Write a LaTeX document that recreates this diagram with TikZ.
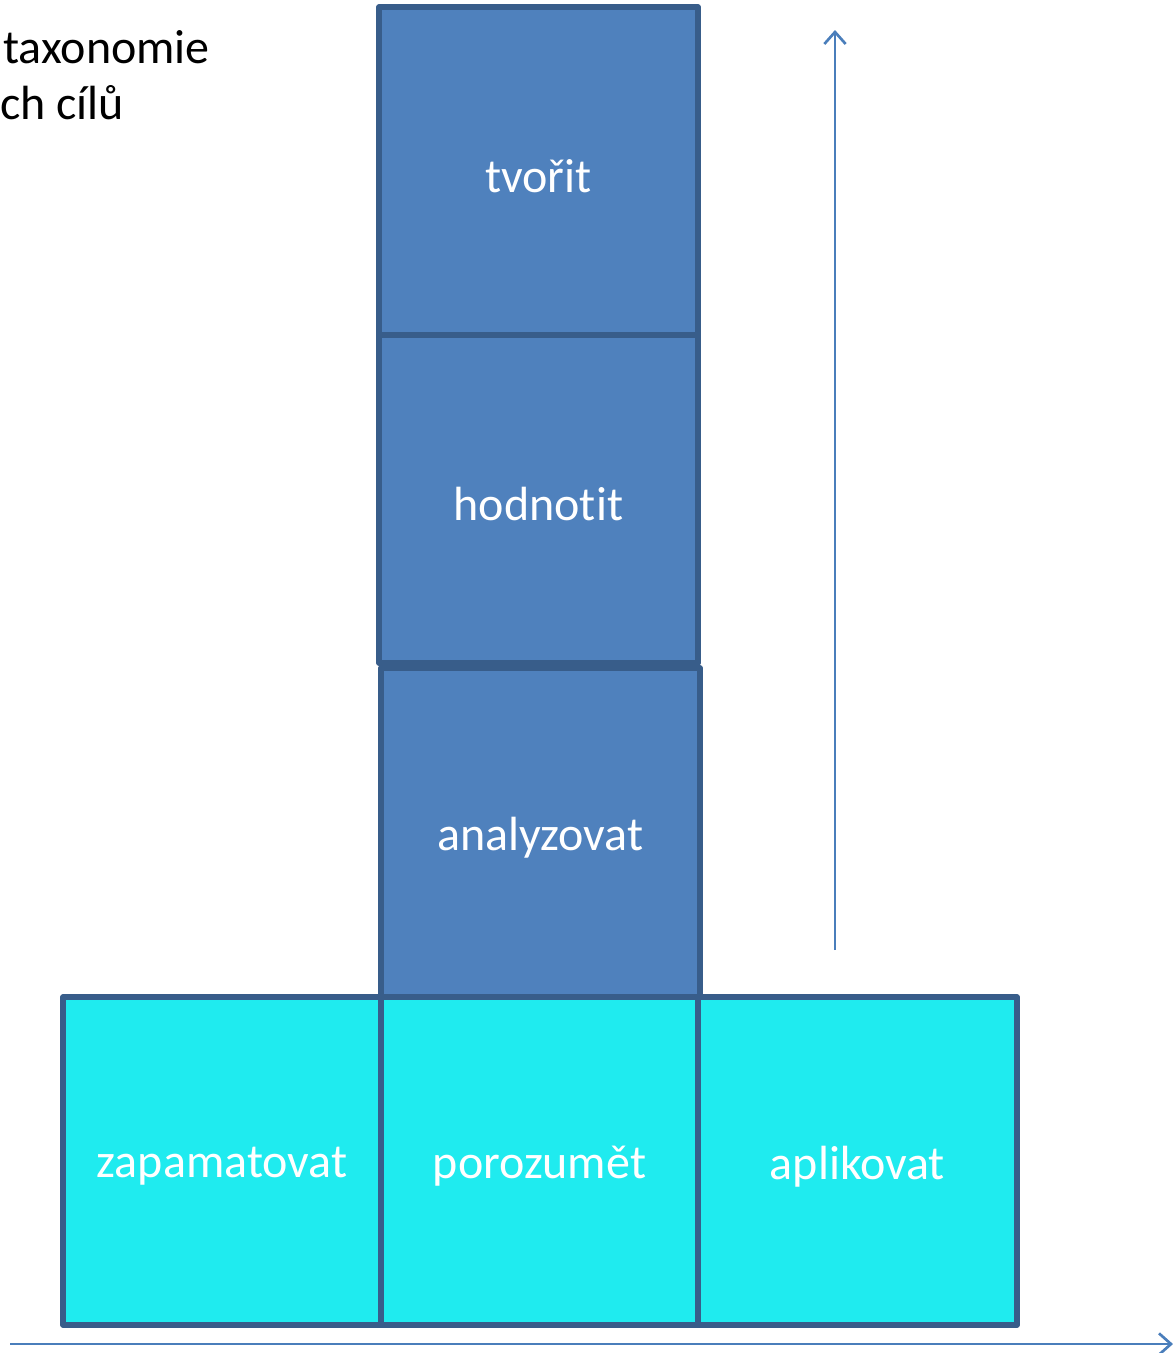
\documentclass[tikz,border=0pt]{standalone}
\usepackage{fontspec}
\setmainfont[Ligatures=NoCommon]{Carlito}
\usetikzlibrary{arrows.meta}
\definecolor{boxline}{HTML}{385D8A}
\definecolor{boxblue}{HTML}{4F81BD}
\definecolor{boxcyan}{HTML}{1FEBEF}
\definecolor{arrowblue}{HTML}{4A7EBB}
\newcommand{\lbl}[1]{\raisebox{-4pt}[\height][\depth]{#1}}
\tikzset{
  px/.style={x=0.75pt,y=-0.75pt},
  level/.style={draw=boxline,line width=4.2pt,line join=round,text=white,font=\fontsize{36}{43}\selectfont,inner sep=0pt,outer sep=0pt},
  upper/.style={level,fill=boxblue},
  lower/.style={level,fill=boxcyan},
  axis/.style={draw=arrowblue,line width=2pt,-{Straight Barb[length=9pt,width=16pt,line width=2pt]}},
  title/.style={font=\fontsize{36}{43}\selectfont,text=black,inner sep=0pt,anchor=base west}
}
\begin{document}
\begin{tikzpicture}[px]
\useasboundingbox (0,0) rectangle (1173,1353);
% upper levels
\node[upper,minimum width=319*0.75pt,minimum height=328*0.75pt] (tvorit) at (538.5,171) {\lbl{tvořit}};
\node[upper,minimum width=319*0.75pt,minimum height=328*0.75pt] (hodnotit) at (538.5,499) {\lbl{hodnotit}};
\node[upper,minimum width=319*0.75pt,minimum height=329*0.75pt] (analyzovat) at (540.5,832.5) {\lbl{analyzovat}};
% lower levels
\node[lower,minimum width=318*0.75pt,minimum height=328*0.75pt] (zapamatovat) at (222,1161) {\lbl{zapamatovat}};
\node[lower,minimum width=317*0.75pt,minimum height=328*0.75pt] (porozumet) at (539.5,1161) {\lbl{porozumět}};
\node[lower,minimum width=319*0.75pt,minimum height=328*0.75pt] (aplikovat) at (857.5,1161) {\lbl{aplikovat}};
% axes
\coordinate (vstart) at (835,950);
\coordinate (vend) at (835,30);
\coordinate (hstart) at (10,1344);
\coordinate (hend) at (1173,1344);
\draw[axis] (vstart) -- (vend);
\draw[axis] (hstart) -- (hend);
% title fragment
\node[title] (t1) at (3,63) {taxonomie};
\node[title] (t2) at (0,119) {ch cílů};
\end{tikzpicture}
\end{document}
